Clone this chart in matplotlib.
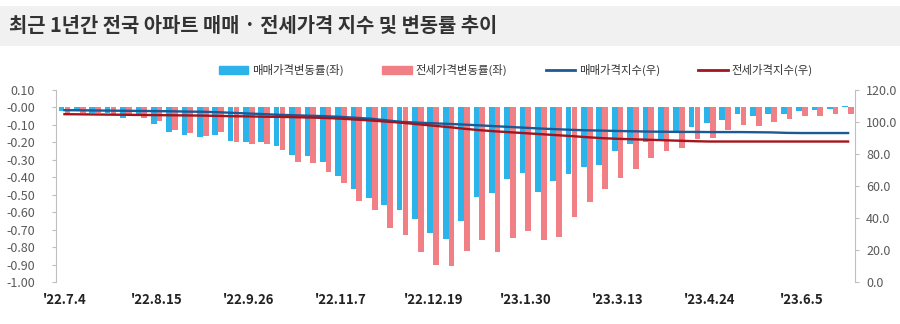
import matplotlib.pyplot as plt
import numpy as np
from matplotlib.patches import Patch, Rectangle
from matplotlib.lines import Line2D

plt.rcParams['font.family'] = ['Noto Sans CJK KR', 'DejaVu Sans']

# weekly series, '22.7.4 ~ '23.6.26
sale_rate = [-0.02, -0.02, -0.03, -0.03, -0.06, -0.05, -0.095, -0.14, -0.155, -0.17,
             -0.16, -0.19, -0.20, -0.20, -0.22, -0.275, -0.28, -0.31, -0.39, -0.465,
             -0.52, -0.56, -0.59, -0.64, -0.72, -0.755, -0.65, -0.515, -0.49, -0.41,
             -0.375, -0.485, -0.42, -0.38, -0.34, -0.33, -0.25, -0.21, -0.20, -0.18,
             -0.14, -0.11, -0.09, -0.07, -0.04, -0.05, -0.04, -0.035, -0.02, -0.015,
             -0.01, 0.01]
jeonse_rate = [-0.03, -0.03, -0.03, -0.04, -0.05, -0.06, -0.075, -0.13, -0.145, -0.165,
               -0.14, -0.20, -0.21, -0.21, -0.245, -0.31, -0.32, -0.37, -0.435, -0.535,
               -0.59, -0.69, -0.73, -0.83, -0.90, -0.91, -0.82, -0.76, -0.83, -0.75,
               -0.71, -0.76, -0.74, -0.63, -0.54, -0.465, -0.405, -0.35, -0.29, -0.25,
               -0.235, -0.18, -0.175, -0.13, -0.10, -0.105, -0.085, -0.065, -0.05, -0.05,
               -0.04, -0.04]
sale_index = [107.4, 107.3, 107.2, 107.1, 107.0, 106.9, 106.8, 106.7, 106.5, 106.4,
              106.1, 105.7, 105.3, 104.9, 104.5, 104.2, 103.9, 103.6, 103.2, 102.6,
              102.0, 101.0, 100.0, 99.6, 99.2, 98.8, 98.4, 97.9, 97.4, 96.9,
              96.4, 95.9, 95.5, 95.1, 94.8, 94.6, 94.4, 94.2, 94.0, 93.9,
              93.8, 93.8, 93.7, 93.7, 93.7, 93.6, 93.5, 93.2, 93.1, 93.1,
              93.1, 93.1]
jeonse_index = [104.9, 104.8, 104.7, 104.6, 104.5, 104.4, 104.3, 104.2, 104.1, 104.0,
                103.8, 103.6, 103.5, 103.3, 103.2, 103.0, 102.8, 102.5, 102.1, 101.5,
                100.9, 100.2, 99.5, 98.6, 97.7, 96.8, 95.8, 94.9, 94.2, 93.6,
                93.0, 92.4, 91.8, 91.2, 90.5, 89.9, 89.5, 89.2, 88.9, 88.6,
                88.3, 88.0, 87.8, 87.8, 87.8, 87.8, 87.8, 87.8, 87.8, 87.8,
                87.8, 87.8]
tick_labels = ["'22.7.4", "'22.8.15", "'22.9.26", "'22.11.7", "'22.12.19",
               "'23.1.30", "'23.3.13", "'23.4.24", "'23.6.5"]

c_sale_bar = '#2BB3EA'
c_jeonse_bar = '#F08086'
c_sale_line = '#1D5A95'
c_jeonse_line = '#A3141C'
c_axis = '#BFBFBF'
c_text = '#595959'

fig = plt.figure(figsize=(9, 3.24), dpi=100)

# title band
fig.patches.append(Rectangle((0, 1 - 46 / 324), 1, 40 / 324, transform=fig.transFigure,
                             facecolor='#F1F1F1', edgecolor='none', zorder=0))
fig.text(9 / 900, 1 - 26 / 324, '최근 1년간 전국 아파트 매매 · 전세가격 지수 및 변동률 추이',
         fontsize=14.3, fontweight='bold', color='#333333', va='center', ha='left')

ax = fig.add_axes([56 / 900, 1 - 282 / 324, 799 / 900, 192 / 324])
x = np.arange(len(sale_rate))
w = 0.37
ax.bar(x - 0.19, sale_rate, width=w, color=c_sale_bar)
ax.bar(x + 0.19, jeonse_rate, width=w, color=c_jeonse_bar)
ax.set_xlim(-0.55, 51.45)
ax.set_ylim(-1.0, 0.1)
ax.set_yticks(np.arange(-1.0, 0.101, 0.1))
ax.set_yticklabels([f'{v:.2f}' for v in np.arange(-1.0, 0.101, 0.1)])
ax.set_xticks(x[::6][:len(tick_labels)])
ax.set_xticklabels(tick_labels, fontweight='bold', fontsize=9.5, color='#222222')
ax.tick_params(axis='x', length=0, pad=8)
ax.tick_params(axis='y', length=3, color=c_axis, labelcolor=c_text, labelsize=9, pad=12)
for s in ['top', 'bottom', 'right']:
    ax.spines[s].set_visible(False)
ax.spines['left'].set_color(c_axis)

ax2 = ax.twinx()
ax2.plot(x, sale_index, color=c_sale_line, lw=1.7)
ax2.plot(x, jeonse_index, color=c_jeonse_line, lw=1.7)
ax2.set_ylim(0, 120)
ax2.set_yticks(np.arange(0, 121, 20))
ax2.set_yticklabels([f'{v:.1f}' for v in np.arange(0, 121, 20)])
ax2.tick_params(axis='y', length=3, color=c_axis, labelcolor=c_text, labelsize=9, pad=5)
for s in ['top', 'bottom', 'left']:
    ax2.spines[s].set_visible(False)
ax2.spines['right'].set_color(c_axis)

handles = [Patch(color=c_sale_bar), Patch(color=c_jeonse_bar),
           Line2D([], [], color=c_sale_line, lw=2), Line2D([], [], color=c_jeonse_line, lw=2)]
labels = ['매매가격변동률(좌)', '전세가격변동률(좌)', '매매가격지수(우)', '전세가격지수(우)']
fig.legend(handles, labels, loc='center', bbox_to_anchor=(0.573, 1 - 70 / 324), ncol=4,
           frameon=False, fontsize=8.2, handlelength=2.6, handleheight=0.6,
           columnspacing=3.4, handletextpad=0.3, labelcolor='#333333')

fig.savefig('out.png', dpi=100)
